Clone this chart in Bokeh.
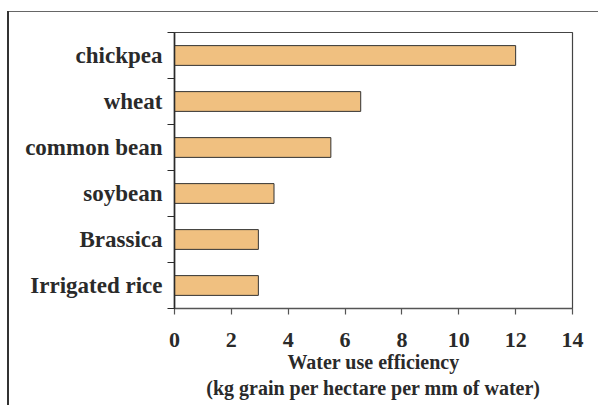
from bokeh.plotting import figure
from bokeh.models import Range1d, LinearAxis, FixedTicker, ColumnDataSource
from bokeh.embed import file_html
from bokeh.resources import INLINE

crops = ["chickpea", "wheat", "common bean", "soybean", "Brassica", "Irrigated rice"]
wue = [12.0, 6.55, 5.5, 3.5, 2.95, 2.95]
x_ticks = [0, 2, 4, 6, 8, 10, 12, 14]
x_title = "Water use efficiency\n(kg grain per hectare per mm of water)"

n = len(crops)
ypos = [n - 0.5 - i for i in range(n)]          # chickpea at top
src = ColumnDataSource(dict(crop=crops, wue=wue, y=ypos))

FONT = "Liberation Serif"
DARK = "#2a2a2a"

p = figure(width=598, height=405, output_backend="svg", toolbar_location=None,
           y_range=Range1d(0, n), x_range=Range1d(0, 14),
           x_axis_location=None, y_axis_location=None,
           min_border_left=174, min_border_right=26,
           min_border_top=32, min_border_bottom=97)

# outer picture frame (only its top and left edges fall inside the window)
p.styles = {
    "background-color": "white",
    "background-image": "linear-gradient(#333333,#333333), linear-gradient(#666666,#666666)",
    "background-position": "7px 11px, 7px 11px",
    "background-size": "2px 100%, 100% 1px",
    "background-repeat": "no-repeat",
}

p.hbar(y="y", right="wue", left=0, height=0.43, source=src,
       fill_color="#F0C080", line_color="#333333", line_width=1)

p.grid.visible = False
p.outline_line_color = "#444444"
p.outline_line_width = 1.2
p.background_fill_color = "white"
p.border_fill_color = None

# inner left axis: tick marks at category boundaries
tick_axis = LinearAxis(ticker=FixedTicker(ticks=list(range(n + 1))),
                       major_label_overrides={i: "" for i in range(n + 1)},
                       major_tick_out=7, major_tick_in=0, minor_tick_out=0, minor_tick_in=0,
                       major_label_standoff=0,
                       axis_line_color=DARK, axis_line_width=1.6,
                       major_tick_line_color=DARK, major_tick_line_width=1.2)
# outer left axis: crop names at category centres
cat_axis = LinearAxis(ticker=FixedTicker(ticks=ypos),
                      major_label_overrides={y: c for y, c in zip(ypos, crops)},
                      major_tick_out=0, major_tick_in=0, minor_tick_out=0, minor_tick_in=0,
                      axis_line_color=None, major_tick_line_color=None,
                      major_label_standoff=5,
                      major_label_text_font=FONT,
                      major_label_text_font_style="bold",
                      major_label_text_font_size="23px",
                      major_label_text_color=DARK)
p.add_layout(tick_axis, "left")
p.add_layout(cat_axis, "left")

x_axis = LinearAxis(ticker=FixedTicker(ticks=x_ticks),
                    major_tick_out=6, major_tick_in=0, minor_tick_out=0, minor_tick_in=0,
                    axis_line_color="#555555", axis_line_width=1.4,
                    major_tick_line_color="#555555", major_tick_line_width=1.2,
                    major_label_standoff=18,
                    major_label_text_font=FONT, major_label_text_font_style="bold",
                    major_label_text_font_size="22px", major_label_text_color=DARK,
                    axis_label=x_title, axis_label_standoff=1,
                    axis_label_text_font=FONT, axis_label_text_font_style="bold",
                    axis_label_text_font_size="20px", axis_label_text_color=DARK)
p.add_layout(x_axis, "below")

open("out.html", "w").write(file_html(p, INLINE))
